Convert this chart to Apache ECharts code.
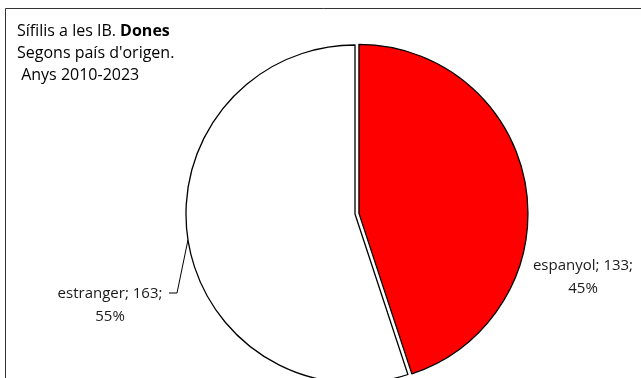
<!DOCTYPE html>
<html>
<head>
<meta charset="utf-8">
<script src="https://cdn.jsdelivr.net/npm/echarts@6/dist/echarts.min.js"></script>
<style>html,body{margin:0;padding:0;background:#fff}#c{width:641px;height:378px}</style>
</head>
<body>
<div id="c"></div>
<script>
var categories = ['espanyol', 'estranger'];
var values = [133, 163];
var colors = ['#FF0000', '#FFFFFF'];
var titleLines = ['Sífilis a les IB. ', 'Dones', "Segons país d'origen.", ' Anys 2010-2023'];

var CX = 355, CY = 214, R = 169;
var FONT = 'Open Sans', FS = 15, TFS = 16;
var chart = echarts.init(document.getElementById('c'), null, {renderer: 'canvas'});

function labelText(p) { return p.name + '; ' + p.value + ';\n' + Math.round(p.percent) + '%'; }

chart.setOption({
  animation: false,
  backgroundColor: '#fff',
  graphic: [{
    type: 'rect', silent: true, z: -10,
    shape: {x: 5.5, y: 8.5, width: 1000, height: 1000},
    style: {fill: 'none', stroke: '#333', lineWidth: 1}
  }],
  title: {
    left: 12, top: 15,
    text: '{n|' + titleLines[0] + '}{b|' + titleLines[1] + '}\n{n|' + titleLines[2] + '}\n{n|' + titleLines[3] + '}',
    textStyle: {
      fontWeight: 'normal',
      rich: {
        n: {fontFamily: FONT, fontSize: TFS, fontWeight: 'normal', color: '#000', lineHeight: 22},
        b: {fontFamily: FONT, fontSize: TFS, fontWeight: 'bold', color: '#000', lineHeight: 22}
      }
    }
  },
  series: [{
    type: 'pie',
    center: [CX, CY],
    radius: [0, R],
    startAngle: 90,
    clockwise: true,
    selectedMode: 'single',
    selectedOffset: 4,
    itemStyle: {borderColor: '#000', borderWidth: 1.3},
    emphasis: {disabled: true},
    label: {show: false},
    labelLine: {show: false},
    data: categories.map(function (n, i) {
      return {name: n, value: values[i], selected: i === 0, itemStyle: {color: colors[i]}};
    })
  }, {
    type: 'pie',
    silent: true,
    center: [CX, CY],
    radius: [0, R],
    startAngle: 90,
    clockwise: true,
    selectedMode: false,
    avoidLabelOverlap: false,
    itemStyle: {color: 'rgba(0,0,0,0)', borderWidth: 0},
    emphasis: {disabled: true},
    label: {
      show: true,
      position: 'outside',
      fontFamily: FONT,
      fontSize: FS,
      color: '#1a1a1a',
      lineHeight: 23,
      align: 'center',
      formatter: labelText
    },
    labelLine: {show: true, lineStyle: {color: '#000', width: 1}, length: 10, length2: 10},
    labelLayout: function (p) {
      if (p.dataIndex === 0) {
        return {x: 583, y: 277, align: 'center', verticalAlign: 'middle'};
      }
      var a = Math.PI * 8.8 / 180;
      var ex = CX - R * Math.cos(a), ey = CY + R * Math.sin(a);
      return {
        x: 110, y: 305, align: 'center', verticalAlign: 'middle',
        labelLinePoints: [[ex, ey], [177, 293], [169, 293]]
      };
    },
    data: categories.map(function (n, i) {
      return {name: n, value: values[i], labelLine: {show: i === 1}};
    })
  }]
});
</script>
</body>
</html>
